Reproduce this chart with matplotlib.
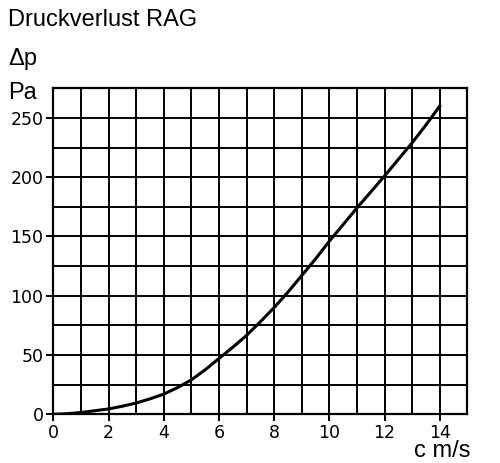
import numpy as np
import matplotlib.pyplot as plt
from matplotlib.ticker import MultipleLocator

# values (every half m/s)
speed = [0, 0.5, 1, 1.5, 2, 2.5, 3, 3.5, 4, 4.5, 5, 5.5, 6, 6.5, 7,
         7.5, 8, 8.5, 9, 9.5, 10, 10.5, 11, 11.5, 12, 12.5, 13, 13.5, 14]
pressure_loss = [0, 0.5, 1.5, 3, 4.5, 6.8, 9.5, 13, 17, 22.5, 29, 37.5, 47, 56.5, 66.5,
                 78, 90, 103, 117, 131, 146, 160, 174, 187.5, 201, 215, 229, 244, 260]

x_ticks = [0, 2, 4, 6, 8, 10, 12, 14]
y_ticks = [0, 50, 100, 150, 200, 250]

fig = plt.figure(figsize=(5.0, 4.63), dpi=100)
ax = fig.add_axes([0.1066, 0.1052, 0.828, 0.7041])

ax.plot(speed, pressure_loss, color="black", lw=2.2, solid_joinstyle="round")

ax.set_xlim(0, 15)
ax.set_ylim(0, 275)
ax.set_xticks(x_ticks)
ax.set_yticks(y_ticks)
ax.xaxis.set_minor_locator(MultipleLocator(1))
ax.yaxis.set_minor_locator(MultipleLocator(25))
ax.grid(which="both", color="black", lw=1.4)
ax.set_axisbelow(True)

for s in ax.spines.values():
    s.set_linewidth(1.6)

ax.tick_params(which="major", direction="out", length=5, width=1.4, colors="black",
               labelsize=12.5, pad=2)
ax.tick_params(which="minor", length=0)
for lab in ax.get_xticklabels() + ax.get_yticklabels():
    lab.set_family(["Liberation Sans Narrow", "DejaVu Sans"])

font = ["Liberation Sans", "DejaVu Sans"]
fig.text(0.016, 0.944, "Druckverlust RAG", fontsize=17, family=font, va="baseline")
fig.text(0.016, 0.860, "Δp", fontsize=17, family=font, va="baseline")
fig.text(0.016, 0.786, "Pa", fontsize=17, family=font, va="baseline")
fig.text(0.94, 0.012, "c m/s", fontsize=17, family=font, ha="right", va="baseline")

fig.savefig("out.png", dpi=100)
